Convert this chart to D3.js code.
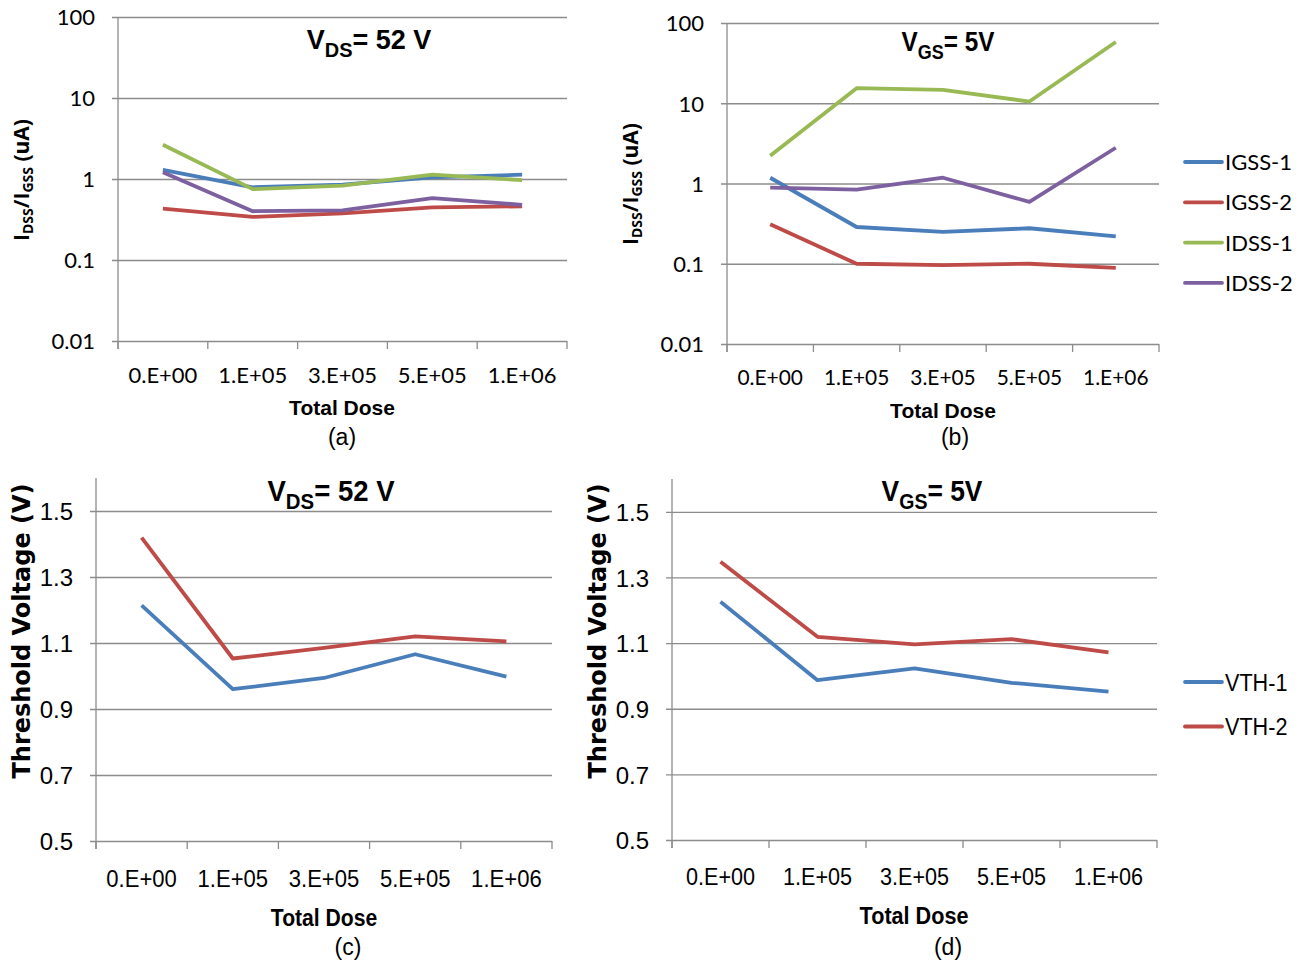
<!DOCTYPE html>
<html>
<head>
<meta charset="utf-8">
<script src="https://cdn.jsdelivr.net/npm/d3@7"></script>
<style>
  body { margin: 0; background: #fff; }
  svg { display: block; }
  .grid line { stroke: #8c8c8c; stroke-width: 1.3; }
  .tick text { fill: #000; }
</style>
</head>
<body>
<svg id="fig" width="1300" height="963"></svg>
<script>
var doses = ["0.E+00", "1.E+05", "3.E+05", "5.E+05", "1.E+06"];

// (a) VDS = 52 V, leakage currents (uA)
var aIGSS1 = [1.30, 0.79, 0.85, 1.05, 1.13];
var aIGSS2 = [0.43, 0.34, 0.377, 0.447, 0.46];
var aIDSS1 = [2.65, 0.75, 0.83, 1.13, 0.97];
var aIDSS2 = [1.21, 0.40, 0.41, 0.58, 0.48];

// (b) VGS = 5V, leakage currents (uA)
var bIGSS1 = [1.18, 0.287, 0.249, 0.277, 0.22];
var bIGSS2 = [0.31, 0.10, 0.096, 0.10, 0.089];
var bIDSS1 = [2.22, 15.4, 14.7, 10.5, 57.9];
var bIDSS2 = [0.89, 0.84, 1.18, 0.59, 2.79];

// (c) VDS = 52 V, threshold voltage (V)
var cVTH1 = [1.214, 0.96, 0.994, 1.066, 0.998];
var cVTH2 = [1.419, 1.053, 1.085, 1.12, 1.105];

// (d) VGS = 5V, threshold voltage (V)
var dVTH1 = [1.226, 0.987, 1.023, 0.979, 0.952];
var dVTH2 = [1.348, 1.119, 1.096, 1.112, 1.072];

var logTicks = [0.01, 0.1, 1, 10, 100];
var vthTicks = [0.5, 0.7, 0.9, 1.1, 1.3, 1.5];

var currentNames = ["IGSS-1", "IGSS-2", "IDSS-1", "IDSS-2"];
var vthNames = ["VTH-1", "VTH-2"];
var colors = ["#4a7ebb", "#be4b48", "#98b954", "#7d60a0"];

var svg = d3.select("#fig");

// text squeezed horizontally by sx around its anchor point
function label(parent, x, y, sx, rot) {
  var tr = "translate(" + x + "," + y + ")" + (rot ? " rotate(" + rot + ")" : "") + " scale(" + sx + ",1)";
  return parent.append("g").attr("transform", tr).append("text");
}

function drawPanel(p) {
  var g = svg.append("g");
  var x = d3.scaleBand().domain(doses).range([p.left, p.right]);
  var y = p.log
    ? d3.scaleLog().domain([0.01, 100]).range([p.bottom, p.top])
    : d3.scaleLinear().domain([0.5, 1.6]).range([p.bottom, p.top]);

  // horizontal gridlines + y ticks
  var yAxis = d3.axisLeft(y).tickValues(p.yTicks)
    .tickSize(0).tickPadding(0)
    .tickFormat(p.log ? function(d) { return String(d); } : d3.format(".1f"));
  var ga = g.append("g").attr("class", "grid")
    .attr("transform", "translate(" + (p.left - 6) + ",0)")
    .call(yAxis);
  ga.select(".domain").remove();
  ga.selectAll(".tick line").attr("x1", 0).attr("x2", p.right - p.left + 6);
  ga.selectAll(".tick text").attr("x", -p.yPad).attr("dy", "0.36em")
    .style("font-family", p.font).style("font-size", p.yTickSize + "px");

  // vertical axis line
  g.append("line").attr("x1", p.left).attr("x2", p.left)
    .attr("y1", y.range()[1]).attr("y2", p.bottom + 8)
    .attr("stroke", "#8c8c8c").attr("stroke-width", 1.3);

  // x axis: ticks at category boundaries
  var bounds = doses.map(function(d) { return x(d); }).concat([p.right]);
  g.selectAll(".xt").data(bounds).enter().append("line")
    .attr("x1", function(d) { return d; }).attr("x2", function(d) { return d; })
    .attr("y1", p.bottom).attr("y2", p.bottom + 8)
    .attr("stroke", "#8c8c8c").attr("stroke-width", 1.3);
  doses.forEach(function(d) {
    label(g, x(d) + x.bandwidth() / 2, p.bottom + p.xLabOff, p.xSqueeze)
      .attr("text-anchor", "middle")
      .style("font-family", p.font).style("font-size", p.xTickSize + "px")
      .text(d);
  });

  // series
  var line = d3.line()
    .x(function(d, i) { return x(doses[i]) + x.bandwidth() / 2; })
    .y(function(d) { return y(d); });
  p.series.forEach(function(s, i) {
    g.append("path").datum(s).attr("d", line)
      .attr("fill", "none").attr("stroke", colors[i])
      .attr("stroke-width", 3.8).attr("stroke-linejoin", "round");
  });

  // title with subscript
  var t = label(g, p.titleX, p.titleY, p.titleSqueeze)
    .attr("text-anchor", "middle")
    .style("font-family", "'Liberation Sans', Arial, sans-serif").style("font-weight", "bold")
    .style("font-size", p.titleSize + "px");
  t.append("tspan").text("V");
  t.append("tspan").attr("dy", p.titleSize * 0.28)
    .style("font-size", (p.titleSize * 0.74) + "px").text(p.sub);
  t.append("tspan").attr("dy", -p.titleSize * 0.28).text(p.titleRest);

  // x axis title and caption
  label(g, p.xTitleX, p.xTitleY, p.xTitleSqueeze)
    .attr("text-anchor", "middle")
    .style("font-family", "'Liberation Sans', Arial, sans-serif").style("font-weight", "bold")
    .style("font-size", p.xTitleSize + "px").text("Total Dose");
  g.append("text").attr("x", p.capX).attr("y", p.capY)
    .attr("text-anchor", "middle")
    .style("font-family", "'Liberation Sans', Arial, sans-serif")
    .style("font-size", "23px").text(p.cap);

  // y axis title
  var yt = g.append("text")
    .attr("transform", "translate(" + p.yTitleX + "," + p.yTitleY + ") rotate(-90)")
    .attr("text-anchor", "middle")
    .style("font-family", p.yTitleFont).style("font-weight", "bold")
    .style("font-size", p.yTitleSize + "px");
  if (p.log) {
    yt.append("tspan").text("I");
    yt.append("tspan").attr("dy", 4).style("font-size", "14px").text("DSS");
    yt.append("tspan").attr("dy", -4).text("/I");
    yt.append("tspan").attr("dy", 4).style("font-size", "14px").text("GSS");
    yt.append("tspan").attr("dy", -4).text(" (uA)");
  } else {
    yt.text("Threshold Voltage (V)");
  }

  // legend
  if (p.legend) {
    p.legend.names.forEach(function(n, i) {
      var ly = p.legend.y + i * p.legend.step;
      g.append("line").attr("x1", 1185).attr("x2", 1222)
        .attr("y1", ly).attr("y2", ly)
        .attr("stroke", colors[i]).attr("stroke-width", 3.8)
        .attr("stroke-linecap", "round");
      label(g, 1225, ly + p.legend.size * 0.36, p.legend.squeeze)
        .style("font-family", p.legend.font).style("font-size", p.legend.size + "px")
        .text(n);
    });
  }
}

var topFont = "Lato, 'Open Sans', sans-serif";
var botFont = "'Liberation Sans', Arial, sans-serif";

drawPanel({
  log: true, left: 118, right: 567, top: 17, bottom: 341,
  yTicks: logTicks, yPad: 17, font: topFont, yTickSize: 22, xTickSize: 22, xSqueeze: 1,
  xLabOff: 42,
  series: [aIGSS1, aIGSS2, aIDSS1, aIDSS2],
  titleSize: 27, titleSqueeze: 1, titleX: 369, titleY: 49, sub: "DS", titleRest: "= 52 V",
  xTitleX: 342, xTitleY: 415, xTitleSize: 21, xTitleSqueeze: 1, capX: 342, capY: 445, cap: "(a)",
  yTitleFont: "'Open Sans', sans-serif", yTitleSize: 21, yTitleX: 29, yTitleY: 180
});

drawPanel({
  log: true, left: 727, right: 1159, top: 23, bottom: 344,
  yTicks: logTicks, yPad: 17, font: topFont, yTickSize: 22, xTickSize: 22, xSqueeze: 0.95,
  xLabOff: 41,
  series: [bIGSS1, bIGSS2, bIDSS1, bIDSS2],
  titleSize: 27, titleSqueeze: 0.9, titleX: 948, titleY: 51, sub: "GS", titleRest: "= 5V",
  xTitleX: 943, xTitleY: 418, xTitleSize: 21, xTitleSqueeze: 1, capX: 955, capY: 445, cap: "(b)",
  yTitleFont: "'Open Sans', sans-serif", yTitleSize: 21, yTitleX: 638, yTitleY: 184,
  legend: { names: currentNames, y: 162, step: 40.3, font: topFont, size: 22, squeeze: 1 }
});

drawPanel({
  log: false, left: 96, right: 552, top: 478, bottom: 841,
  yTicks: vthTicks, yPad: 17, font: botFont, yTickSize: 24, xTickSize: 24, xSqueeze: 0.92,
  xLabOff: 46,
  series: [cVTH1, cVTH2],
  titleSize: 29, titleSqueeze: 0.95, titleX: 331, titleY: 501, sub: "DS", titleRest: "= 52 V",
  xTitleX: 324, xTitleY: 926, xTitleSize: 24, xTitleSqueeze: 0.88, capX: 348, capY: 955, cap: "(c)",
  yTitleFont: "'DejaVu Sans', sans-serif", yTitleSize: 24, yTitleX: 30, yTitleY: 631
});

drawPanel({
  log: false, left: 672, right: 1157, top: 479, bottom: 840,
  yTicks: vthTicks, yPad: 17, font: botFont, yTickSize: 24, xTickSize: 24, xSqueeze: 0.9,
  xLabOff: 45,
  series: [dVTH1, dVTH2],
  titleSize: 29, titleSqueeze: 0.91, titleX: 932, titleY: 501, sub: "GS", titleRest: "= 5V",
  xTitleX: 914, xTitleY: 924, xTitleSize: 24, xTitleSqueeze: 0.9, capX: 948, capY: 955, cap: "(d)",
  yTitleFont: "'DejaVu Sans', sans-serif", yTitleSize: 24, yTitleX: 606, yTitleY: 631,
  legend: { names: vthNames, y: 682, step: 44.5, font: botFont, size: 24, squeeze: 0.9 }
});
</script>
</body>
</html>
